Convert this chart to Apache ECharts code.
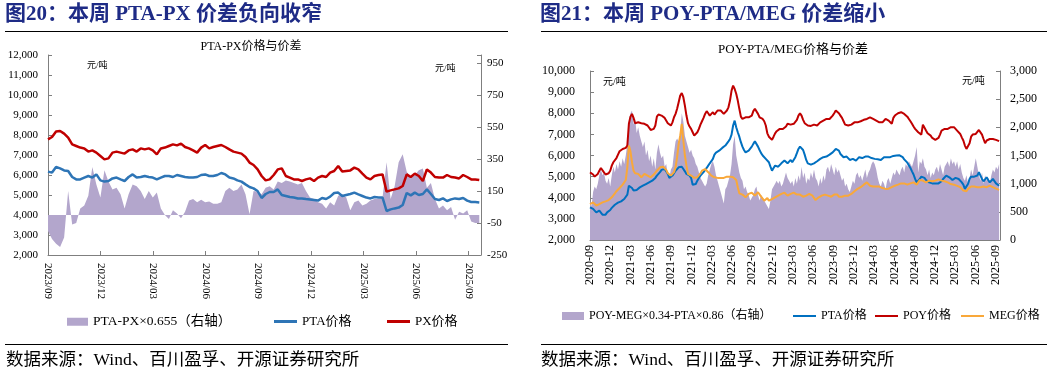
<!DOCTYPE html>
<html><head><meta charset="utf-8">
<script src="https://cdn.jsdelivr.net/npm/echarts@6/dist/echarts.min.js"></script>
<style>html,body{margin:0;padding:0;background:#fff;}#c{width:1057px;height:374px;}</style>
</head><body><div id="c"></div>
<script>
// ---------- categories / tick labels ----------
const leftTicks = ['2023/09','2023/12','2024/03','2024/06','2024/09','2024/12','2025/03','2025/06','2025/09'];
const rightTicks = ['2020-09','2020-12','2021-03','2021-06','2021-09','2021-12','2022-03','2022-06','2022-09','2022-12','2023-03','2023-06','2023-09','2023-12','2024-03','2024-06','2024-09','2024-12','2025-03','2025-06','2025-09'];
// weekly observations: left chart starts 2023-09-01, right chart starts 2020-09-01
const WEEK_DAYS = 7;
const QUARTER_DAYS = 91.3125;

// ---------- left chart (图20) ----------
const leftPX = [7785,7900,8170,8200,8070,7870,7530,7450,7370,7330,7170,7230,7120,6950,6780,6830,7120,7170,7120,7070,7230,7280,7170,7330,7280,7330,7230,7030,7330,7370,7450,7530,7480,7570,7400,7330,7230,7120,7370,7500,7330,7400,7450,7500,7400,7280,7170,7120,7070,6900,6620,6500,6280,
5950,5730,5780,6000,6280,6330,5950,5870,5780,5780,5700,5780,5830,5700,5870,5950,5900,6120,6200,6450,6170,6200,6230,6370,6280,6070,5870,5780,5950,6000,6030,5170,5230,5280,5330,5450,6030,5900,6070,5950,5700,6280,6120,5900,5870,5870,6000,5900,5870,5830,6000,5900,5780,5780,5750];
const leftPTA = [6170,6120,6400,6330,6230,6200,5900,5780,5780,5870,5950,5870,6030,5730,5670,5700,5830,5870,5780,5700,5900,6030,5870,5900,5950,5900,5870,5780,5870,5950,5950,5900,6000,5950,5900,5870,5870,5900,6000,6030,5950,5950,6000,6100,6030,5870,5830,5730,5670,5530,5400,5330,5200,
4850,5050,5150,5150,5280,5000,4950,4900,4870,4830,4830,4800,4780,4750,4720,4850,4800,4920,5100,5120,4950,5000,5050,5120,5030,4950,4870,4830,4900,4870,4870,4200,4280,4330,4370,4500,5100,4980,5120,5000,5050,5280,5050,4800,4750,4830,4700,4780,4830,4800,4850,4720,4650,4650,4630];
const leftSpread = [-100,-150,-180,-200,-140,150,-60,-50,40,60,120,300,190,110,280,210,160,170,130,40,130,190,180,150,100,150,110,140,40,0,-25,30,10,-20,20,90,100,80,95,80,85,70,70,80,150,170,150,160,190,130,5,150,145,
130,170,180,160,210,200,215,210,200,190,200,150,110,100,80,70,40,80,60,120,130,110,30,80,90,60,70,90,100,100,110,330,100,180,330,380,270,230,250,280,290,170,200,100,40,60,30,50,-30,20,10,30,-40,-50,-50];

// ---------- right chart (图21) ----------
const rightPOY = [5200,5160,5100,5000,4970,5130,5280,5410,5360,5200,5100,5050,5160,5280,5520,5680,5760,5880,6040,6200,
6260,6310,6360,6360,6470,7500,7840,7970,7780,7530,7500,7570,7500,7530,7460,7500,7460,7420,7340,7210,
7180,7260,7420,7840,7940,7970,7890,7840,7780,7690,7530,7460,7420,7570,7810,7970,8210,8520,8840,8950,
8760,8360,7890,7530,7370,7260,7100,6940,6860,7100,7260,7460,7620,7780,7970,8100,8000,7890,7970,8050,
7940,8000,8130,8210,8130,8050,7970,8000,8130,8280,8600,9070,9310,9150,8920,8600,8210,7840,7730,7780,
7810,7780,7810,7840,7890,8100,8210,8130,7970,7810,7780,7730,7620,7420,7050,6890,6830,6740,6890,7050,
7150,7210,7260,7260,7250,7260,7370,7500,7420,7460,7370,7500,7570,7690,7890,8000,7890,7690,7530,7460,
7420,7370,7400,7460,7460,7420,7420,7500,7570,7620,7650,7690,7730,7730,7730,7780,7890,8000,8130,8100,
8000,7890,7780,7620,7460,7420,7420,7500,7460,7530,7570,7530,7570,7590,7620,7650,7690,7730,7730,7780,
7810,7780,7730,7690,7650,7620,7570,7570,7570,7620,7730,7690,7650,7570,7500,7780,7890,7970,8000,8050,
8050,8000,7970,7890,7840,7730,7620,7500,7370,7260,7180,7100,7020,6990,7460,7420,7180,7050,6990,6940,
6830,6770,6740,6710,6830,6990,7180,7260,7260,7210,7260,7310,7340,7340,7340,7260,7180,7100,7020,6860,
6710,6470,6310,6390,6580,6890,6990,6990,7020,7100,7210,7150,6990,6780,6580,6710,6740,6780,6780,6780,
6770,6740,6710,6680];
const rightPTA = [3550,3520,3470,3390,3310,3360,3390,3310,3200,3140,3200,3310,3390,3420,3520,3580,3670,3740,3770,3800,
3830,3860,3940,4020,4150,4570,4620,4460,4340,4310,4370,4460,4490,4530,4570,4620,4650,4680,4730,4780,
4810,4870,4940,5050,5130,5210,5320,5410,5360,5250,5130,4940,4940,5050,5160,5280,5360,5440,5510,5470,
5360,5250,5130,5100,5050,4940,4620,4530,4650,4810,4940,5050,5130,5210,5280,5410,5520,5630,5730,5840,
6040,6140,6200,6230,6290,6360,6390,6470,6550,6670,6780,6990,7420,7650,7340,7100,6890,6630,6420,6260,
6150,6150,6230,6310,6420,6550,6670,6580,6420,6260,6110,6000,5920,5840,5760,5680,5470,5280,5410,5520,
5600,5470,5520,5630,5680,5760,5730,5630,5680,5790,5680,5760,5920,6110,6310,6420,6390,6260,6040,5790,
5630,5570,5570,5600,5630,5680,5730,5790,5840,5880,5920,5920,5950,6000,6040,6070,6150,6230,6310,6360,
6230,6070,6000,5920,5920,5950,5880,5790,5790,5840,5790,5760,5820,5920,5920,5880,5920,5950,5980,5950,
5920,5880,5840,5840,5820,5820,5790,5790,5880,5920,5920,5920,5920,5920,5950,5980,6000,6000,6000,6010,
6000,5920,5820,5730,5660,5570,5410,5250,5100,4890,4730,4810,4890,5000,5050,4940,4840,4780,4730,4730,
4680,4650,4680,4730,4680,4650,4780,4890,4970,5050,5000,4970,4940,4840,4810,4940,4970,4890,4810,4730,
4620,4420,4500,4650,4890,5000,5050,5000,4940,5050,5210,5050,4890,4780,4840,4970,4840,4730,4810,4890,
4810,4680,4620,4570];
const rightMEG = [3700,3740,3780,3700,3630,3670,3700,3740,3780,3780,3830,3860,3890,3940,4020,4100,4210,4310,4370,4460,
4530,4620,4730,4840,5440,6470,6200,5680,5280,5160,5210,5130,5050,4970,5000,5130,5100,5050,4970,4970,
5000,5100,5160,5280,5360,5440,5470,5470,5410,5320,5160,5100,5050,5100,5210,5440,5920,6550,6940,7500,
6710,6000,5520,5130,5050,5050,5050,4940,4890,4970,5050,5160,5280,5360,5360,5320,5210,5130,5050,5050,
4970,4890,4940,4970,4940,4890,4940,4970,5000,5050,5000,4970,4970,4940,4840,4500,4210,4180,4150,4100,
4020,4100,4180,4210,4240,4180,4100,4180,4260,4180,4050,3990,3860,3890,3990,3860,3890,3940,3990,4020,
4050,4100,4150,4180,4210,4240,4180,4100,4150,4180,4180,4240,4210,4150,4180,4150,4100,4050,4020,4100,
4100,4180,4150,4100,3990,3890,3940,4020,4050,4100,4100,4150,4180,4100,4020,4050,4100,4150,4180,4150,
4050,4020,4050,4100,4100,4100,4100,4150,4180,4210,4310,4370,4420,4460,4500,4530,4620,4680,4730,4650,
4570,4570,4530,4500,4530,4570,4530,4500,4460,4420,4420,4420,4430,4460,4500,4530,4570,4570,4620,4650,
4680,4730,4680,4650,4620,4650,4680,4680,4730,4680,4620,4730,4840,4890,4810,4780,4730,4780,4810,4810,
4780,4810,4810,4840,4870,4840,4810,4810,4780,4730,4730,4680,4650,4650,4620,4570,4560,4530,4500,4420,
4340,4260,4310,4420,4500,4530,4570,4530,4500,4500,4530,4500,4460,4530,4570,4500,4530,4570,4530,4500,
4460,4430,4400,4370];
const rightSpread = [700,600,850,950,900,1000,1150,1250,1150,1200,1050,1000,1100,950,1150,1300,1200,1350,1250,1400,
1300,1450,1350,1500,1700,2100,2250,2300,2050,2150,1900,2000,1850,1750,1650,1750,1500,1600,1400,1500,
1300,1450,1250,1550,1700,1550,1450,1500,1300,1350,1150,1100,1250,1300,1550,1750,1800,1750,1900,2250,
2100,1850,1750,1650,1550,1600,1500,1450,1350,1300,1200,1100,1050,1000,950,1000,1150,1250,1350,1400,
1300,1150,1050,950,850,750,650,900,950,1050,1150,1350,1700,1850,1500,1350,1200,1100,1050,900,
950,850,800,700,750,800,900,950,800,700,800,750,700,650,600,550,700,900,950,1000,
1050,1000,1050,950,1000,1100,1200,1100,1050,1000,1050,950,1100,1000,1150,1050,1300,1100,1200,1000,
1100,1050,1200,1100,1250,1100,1050,950,1100,1000,1150,1050,1250,1300,1200,1350,1250,1150,1300,1200,
1250,1150,1050,1100,950,1000,900,850,950,1050,1000,1150,1200,1100,1150,1050,1150,1250,1100,1200,
1250,1350,1400,1350,1250,1100,1000,950,1050,1000,900,1050,1100,1000,1100,1200,1150,1250,1200,1150,
1250,1300,1200,1350,1300,1400,1350,1300,1400,1500,1650,1200,1400,1350,1450,1300,1250,1150,1250,1100,
1200,1150,1250,1300,1200,1350,1250,1150,1300,1350,1400,1300,1450,1350,1400,1300,1400,1250,1350,1200,
1100,1050,1150,1000,1100,1250,1150,1300,1450,1300,1150,1050,1200,1000,1150,1050,1100,1000,1150,1250,
1200,1300,1250,1350];

// ---------- styling ----------
const SERIF = '"Liberation Serif","Noto Sans CJK SC",serif';
const C_RED = '#C00000', C_BLUE_L = '#2E75B6', C_BLUE_R = '#0070C0', C_ORANGE = '#F9A83A', C_PURPLE = '#B3A6CC';
const AX = '#7f7f7f';

const weekly = arr => arr.map((v, i) => [i * WEEK_DAYS, v]);
const tickFmt = ticks => v => {
  const k = Math.round(v / QUARTER_DAYS);
  return Math.abs(v - k * QUARTER_DAYS) < 0.5 && ticks[k] ? ticks[k] : '';
};
const commas = v => Number(v).toLocaleString('en-US');

function yAx(gi, pos, min, max, interval, fs, margin, fmt) {
  return {
    type: 'value', gridIndex: gi, position: pos, min, max, interval,
    axisLine: { show: true, onZero: false, lineStyle: { color: AX, width: 1 } },
    axisTick: { show: true, inside: true, length: 4, lineStyle: { color: AX } },
    axisLabel: { fontFamily: SERIF, fontSize: fs, color: '#000', margin, formatter: fmt },
    splitLine: { show: false }
  };
}

const option = {
  animation: false,
  grid: [
    { left: 48, right: 576, top: 55, height: 200 },
    { left: 590, right: 57, top: 71, height: 169 }
  ],
  xAxis: [
    { type: 'value', gridIndex: 0, min: 0, max: 752, interval: QUARTER_DAYS,
      axisLine: { onZero: false, lineStyle: { color: AX } },
      axisTick: { inside: true, length: 4, lineStyle: { color: AX } },
      axisLabel: { rotate: -90, fontFamily: SERIF, fontSize: 11, color: '#000', margin: 8, formatter: tickFmt(leftTicks), showMaxLabel: false },
      splitLine: { show: false } },
    { type: 'value', gridIndex: 1, min: 0, max: 1845, interval: QUARTER_DAYS,
      axisLine: { onZero: false, lineStyle: { color: AX } },
      axisTick: { inside: true, length: 4, lineStyle: { color: AX } },
      axisLabel: { rotate: 90, fontFamily: SERIF, fontSize: 12, color: '#000', margin: 5, formatter: tickFmt(rightTicks), showMaxLabel: false },
      splitLine: { show: false } }
  ],
  yAxis: [
    yAx(0, 'left', 2000, 12000, 1000, 11, 10, commas),
    yAx(0, 'right', -250, 1000, 200, 11, 6, v => (v === 1000 ? '' : String(v))),
    yAx(1, 'left', 2000, 10000, 1000, 12, 15, commas),
    yAx(1, 'right', 0, 3000, 500, 12, 10, commas)
  ],
  legend: [
    { left: 67, top: 315, itemWidth: 21, itemHeight: 8, padding: 0, icon: 'rect', selectedMode: false,
      textStyle: { fontFamily: SERIF, fontSize: 13.5, color: '#000' },
      data: [{ name: 'PTA-PX×0.655（右轴）', itemStyle: { color: C_PURPLE } }] },
    { left: 274, top: 315, itemWidth: 23, itemHeight: 3, padding: 0, icon: 'rect', selectedMode: false,
      textStyle: { fontFamily: SERIF, fontSize: 13, color: '#000' },
      data: [{ name: 'PTA价格', itemStyle: { color: C_BLUE_L } }] },
    { left: 387, top: 315, itemWidth: 23, itemHeight: 3, padding: 0, icon: 'rect', selectedMode: false,
      textStyle: { fontFamily: SERIF, fontSize: 13, color: '#000' },
      data: [{ name: 'PX价格', itemStyle: { color: C_RED } }] },
    { left: 562, top: 310, itemWidth: 22, itemHeight: 8, padding: 0, icon: 'rect', selectedMode: false,
      textStyle: { fontFamily: SERIF, fontSize: 12, color: '#000' },
      data: [{ name: 'POY-MEG×0.34-PTA×0.86（右轴）', itemStyle: { color: C_PURPLE } }] },
    { left: 793, top: 310, itemWidth: 23, itemHeight: 2, padding: 0, icon: 'rect', selectedMode: false,
      textStyle: { fontFamily: SERIF, fontSize: 12, color: '#000' },
      data: [{ name: 'PTA价格 ', itemStyle: { color: C_BLUE_R } }] },
    { left: 875, top: 310, itemWidth: 23, itemHeight: 2, padding: 0, icon: 'rect', selectedMode: false,
      textStyle: { fontFamily: SERIF, fontSize: 12, color: '#000' },
      data: [{ name: 'POY价格', itemStyle: { color: C_RED } }] },
    { left: 961, top: 310, itemWidth: 23, itemHeight: 2, padding: 0, icon: 'rect', selectedMode: false,
      textStyle: { fontFamily: SERIF, fontSize: 12, color: '#000' },
      data: [{ name: 'MEG价格', itemStyle: { color: C_ORANGE } }] }
  ],
  series: [
    { name: 'PTA-PX×0.655（右轴）', type: 'line', xAxisIndex: 0, yAxisIndex: 1, data: weekly(leftSpread),
      showSymbol: false, z: 1, lineStyle: { width: 0, opacity: 0 }, itemStyle: { color: C_PURPLE },
      areaStyle: { color: C_PURPLE, opacity: 1 } },
    { name: 'PTA价格', type: 'line', xAxisIndex: 0, yAxisIndex: 0, data: weekly(leftPTA),
      showSymbol: false, z: 3, lineStyle: { width: 2.5, color: C_BLUE_L }, itemStyle: { color: C_BLUE_L } },
    { name: 'PX价格', type: 'line', xAxisIndex: 0, yAxisIndex: 0, data: weekly(leftPX),
      showSymbol: false, z: 3, lineStyle: { width: 2.5, color: C_RED }, itemStyle: { color: C_RED } },
    { name: 'POY-MEG×0.34-PTA×0.86（右轴）', type: 'line', xAxisIndex: 1, yAxisIndex: 3, data: weekly(rightSpread),
      showSymbol: false, z: 1, lineStyle: { width: 0, opacity: 0 }, itemStyle: { color: C_PURPLE },
      areaStyle: { color: C_PURPLE, opacity: 1 } },
    { name: 'PTA价格 ', type: 'line', xAxisIndex: 1, yAxisIndex: 2, data: weekly(rightPTA),
      showSymbol: false, z: 3, lineStyle: { width: 2, color: C_BLUE_R }, itemStyle: { color: C_BLUE_R } },
    { name: 'POY价格', type: 'line', xAxisIndex: 1, yAxisIndex: 2, data: weekly(rightPOY),
      showSymbol: false, z: 3, lineStyle: { width: 2, color: C_RED }, itemStyle: { color: C_RED } },
    { name: 'MEG价格', type: 'line', xAxisIndex: 1, yAxisIndex: 2, data: weekly(rightMEG),
      showSymbol: false, z: 3, lineStyle: { width: 2, color: C_ORANGE }, itemStyle: { color: C_ORANGE } }
  ],
  graphic: [
    { type: 'text', left: 5, top: 4, style: { text: '图20：本周 PTA-PX 价差负向收窄', fontFamily: SERIF, fontSize: 21, fontWeight: 'bold', fill: '#1E2B86' } },
    { type: 'text', left: 540, top: 4, style: { text: '图21：本周 POY-PTA/MEG 价差缩小', fontFamily: SERIF, fontSize: 21, fontWeight: 'bold', fill: '#1E2B86' } },
    { type: 'line', shape: { x1: 5, y1: 31.5, x2: 508, y2: 31.5 }, style: { stroke: '#000', lineWidth: 1 } },
    { type: 'line', shape: { x1: 541, y1: 31.5, x2: 1047, y2: 31.5 }, style: { stroke: '#000', lineWidth: 1 } },
    { type: 'line', shape: { x1: 5, y1: 344.5, x2: 508, y2: 344.5 }, style: { stroke: '#000', lineWidth: 1 } },
    { type: 'line', shape: { x1: 541, y1: 344.5, x2: 1047, y2: 344.5 }, style: { stroke: '#000', lineWidth: 1 } },
    { type: 'text', x: 251, y: 47, style: { text: 'PTA-PX价格与价差', fontFamily: SERIF, fontSize: 12, fill: '#000', align: 'center', verticalAlign: 'middle' } },
    { type: 'text', x: 793, y: 50, style: { text: 'POY-PTA/MEG价格与价差', fontFamily: SERIF, fontSize: 13, fill: '#000', align: 'center', verticalAlign: 'middle' } },
    { type: 'text', x: 87, y: 66, style: { text: '元/吨', fontFamily: SERIF, fontSize: 9, fill: '#000', verticalAlign: 'middle' } },
    { type: 'text', x: 435, y: 69, style: { text: '元/吨', fontFamily: SERIF, fontSize: 9, fill: '#000', verticalAlign: 'middle' } },
    { type: 'text', x: 603, y: 82, style: { text: '元/吨', fontFamily: SERIF, fontSize: 10, fill: '#000', verticalAlign: 'middle' } },
    { type: 'text', x: 962, y: 81, style: { text: '元/吨', fontFamily: SERIF, fontSize: 10, fill: '#000', verticalAlign: 'middle' } },
    { type: 'text', x: 6, y: 360, style: { text: '数据来源：Wind、百川盈孚、开源证券研究所', fontFamily: SERIF, fontSize: 17.5, fill: '#000', verticalAlign: 'middle' } },
    { type: 'text', x: 541, y: 360, style: { text: '数据来源：Wind、百川盈孚、开源证券研究所', fontFamily: SERIF, fontSize: 17.5, fill: '#000', verticalAlign: 'middle' } }
  ]
};

const chart = echarts.init(document.getElementById('c'), null, { renderer: 'canvas' });
chart.setOption(option);
</script>
</body></html>
